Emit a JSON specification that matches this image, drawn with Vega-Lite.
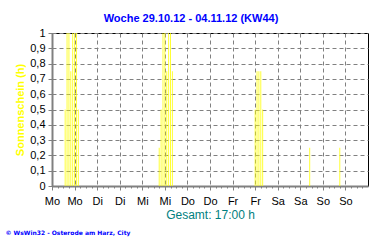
{
  "$schema": "https://vega.github.io/schema/vega-lite/v6.json",
  "width": 316,
  "height": 153,
  "autosize": "none",
  "padding": {"left": 52, "top": 33, "right": 12, "bottom": 59},
  "background": "white",
  "config": {"view": {"stroke": "black", "strokeWidth": 1}, "font": "Liberation Sans"},
  "title": {
    "text": "Woche 29.10.12 - 04.11.12 (KW44)",
    "color": "#0000FF",
    "fontSize": 11,
    "fontWeight": "bold",
    "font": "Liberation Sans",
    "anchor": "middle",
    "dx": -19,
    "offset": -6,
    "baseline": "alphabetic"
  },
  "resolve": {"axis": {"y": "independent"}},
  "layer": [
    {
      "data": {
        "values": [
          {"h": 7, "v": 0.5}, {"h": 8, "v": 1}, {"h": 9, "v": 1}, {"h": 10, "v": 0.75},
          {"h": 11, "v": 1}, {"h": 12, "v": 1}, {"h": 13, "v": 1}, {"h": 14, "v": 0.5},
          {"h": 57, "v": 0.25}, {"h": 58, "v": 0.5}, {"h": 59, "v": 1}, {"h": 60, "v": 1},
          {"h": 61, "v": 0.75}, {"h": 62, "v": 1}, {"h": 63, "v": 1}, {"h": 64, "v": 0.75},
          {"h": 108, "v": 0.5}, {"h": 109, "v": 0.75}, {"h": 110, "v": 0.75}, {"h": 111, "v": 0.75},
          {"h": 112, "v": 0.5},
          {"h": 137, "v": 0.25},
          {"h": 153, "v": 0.25}
        ]
      },
      "mark": {"type": "rule", "color": "#FFFF00", "strokeWidth": 0.8},
      "encoding": {
        "x": {
          "field": "h",
          "type": "quantitative",
          "scale": {"domain": [0, 168], "nice": false, "zero": false},
          "axis": {
            "orient": "bottom",
            "values": [0,3,6,9,12,15,18,21,24,27,30,33,36,39,42,45,48,51,54,57,60,63,66,69,72,75,78,81,84,87,90,93,96,99,102,105,108,111,114,117,120,123,126,129,132,135,138,141,144,147,150,153,156,159,162,165],
            "labelExpr": "datum.value % 12 === 0 ? ['Mo','Di','Mi','Do','Fr','Sa','So'][floor(datum.value/24)] : ''",
            "labelFontSize": 11,
            "labelColor": "black",
            "labelPadding": 5,
            "labelFlush": false,
            "labelOverlap": false,
            "labelBound": false,
            "grid": true,
            "gridColor": "#808080",
            "gridDash": [4, 3],
            "gridWidth": 1,
            "gridOpacity": {"condition": {"test": "datum.value % 12 === 0", "value": 1}, "value": 0},
            "domainColor": "#808080",
            "domainWidth": 2,
            "tickColor": "#808080",
            "tickSize": {"condition": {"test": "datum.value % 12 === 0", "value": 4}, "value": 2},
            "title": "Gesamt: 17:00 h",
            "titleColor": "#008080",
            "titleFontSize": 12,
            "titleFontWeight": "normal",
            "titleX": 158,
            "titleY": 32.5,
            "titleAlign": "center",
            "titleBaseline": "alphabetic"
          }
        },
        "y": {
          "field": "v",
          "type": "quantitative",
          "scale": {"domain": [0, 1], "nice": false},
          "axis": {
            "orient": "left",
            "values": [0, 0.1, 0.2, 0.3, 0.4, 0.5, 0.6, 0.7, 0.8, 0.9, 1],
            "labelExpr": "replace(format(datum.value, '.1~f'), '.', ',')",
            "labelFontSize": 11,
            "labelColor": "black",
            "labelPadding": 3,
            "grid": true,
            "gridColor": "#808080",
            "gridDash": [4, 3],
            "gridWidth": 1,
            "domainColor": "#808080",
            "domainWidth": 2,
            "tickColor": "#808080",
            "tickSize": 4,
            "title": "Sonnenschein (h)",
            "titleColor": "#FFFF00",
            "titleFontSize": 11,
            "titleFontWeight": "bold",
            "titleX": -29,
            "titleY": 76.5,
            "titleAlign": "center",
            "titleBaseline": "alphabetic"
          }
        },
        "y2": {"datum": 0}
      }
    },
    {
      "data": {"values": []},
      "mark": {"type": "rule"},
      "encoding": {
        "y": {
          "field": "v",
          "type": "quantitative",
          "axis": {
            "orient": "right",
            "domain": false,
            "ticks": false,
            "labels": false,
            "grid": false,
            "title": "© WsWin32  -  Osterode am Harz, City",
            "titleAngle": 0,
            "titleX": -363,
            "titleY": 199,
            "titleAlign": "left",
            "titleBaseline": "middle",
            "titleColor": "#0000FF",
            "titleFont": "DejaVu Sans",
            "titleFontSize": 6,
            "titleFontWeight": "bold"
          }
        }
      }
    }
  ]
}
